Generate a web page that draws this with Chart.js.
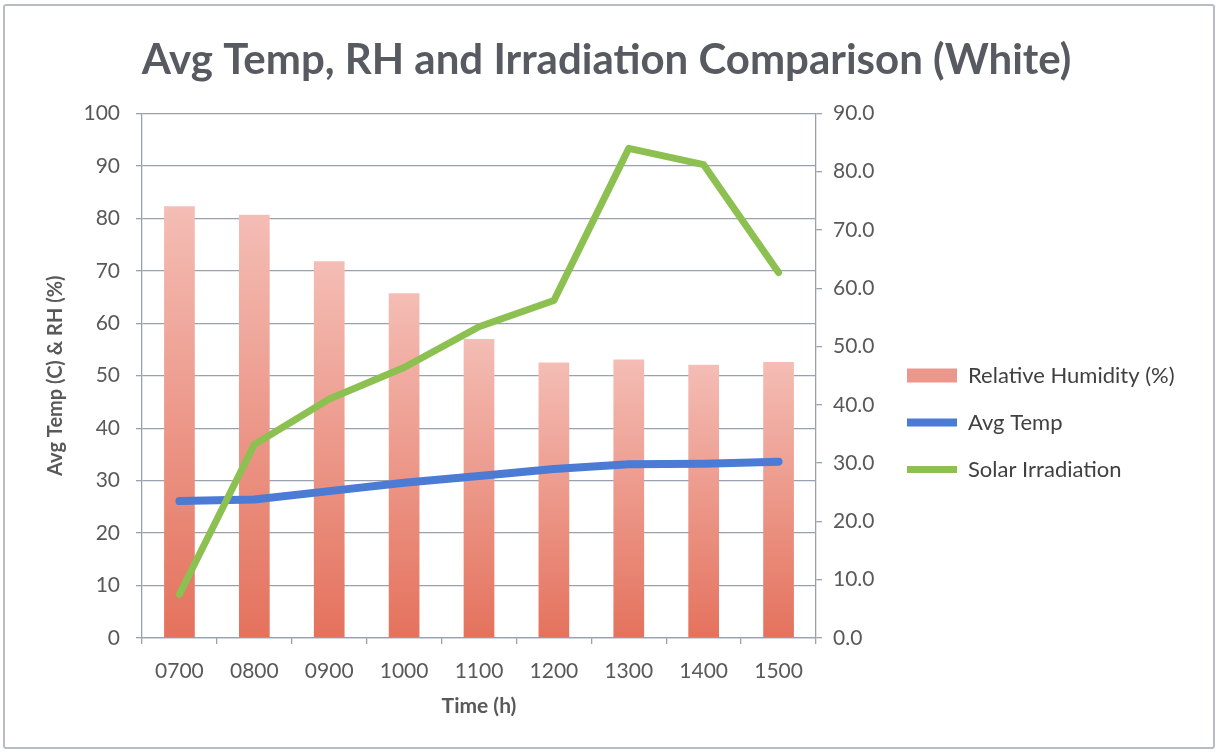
<!DOCTYPE html>
<html>
<head>
<meta charset="utf-8">
<title>Avg Temp, RH and Irradiation Comparison (White)</title>
<script src="https://cdn.jsdelivr.net/npm/chart.js@4.4.0/dist/chart.umd.min.js"></script>
<style>
    html, body { margin: 0; padding: 0; background: #ffffff; }
    #moldura {
        position: absolute; left: 3px; top: 4px;
        width: 1208px; height: 741px;
        border: 2px solid #b9bdc3; border-radius: 3px;
    }
    #grafico { position: absolute; left: 0; top: 0; }
</style>
</head>
<body>
<div id="moldura"></div>
<canvas id="grafico" width="1219" height="753"></canvas>
<script>
//===============================================================
// ========================== DADOS =============================
//===============================================================
const horarios = ["0700", "0800", "0900", "1000", "1100", "1200", "1300", "1400", "1500"];

// eixo da esquerda (0 - 100)
const umidadeRelativa = [82.3, 80.7, 71.8, 65.7, 57.0, 52.5, 53.1, 52.1, 52.6];
const tempMedia = [26.1, 26.4, 28.0, 29.6, 30.9, 32.2, 33.1, 33.2, 33.6];

// eixo da direita (0.0 - 90.0)
const irradiacaoSolar = [7.5, 33.2, 41.0, 46.4, 53.4, 57.9, 84.0, 81.2, 62.7];

const corTexto = "#595959";
const corGrade = "#99a1af";
const fonte = "Lato";

//===============================================================
// ========================= FUNÇÕES ============================
//===============================================================

// degradê por barra: rosa claro no topo, salmão na base
function gradienteBarra(context) {
    const chart = context.chart;
    if (!chart.chartArea || context.type !== "data") {
        return "#ec978b";
    }
    const escala = chart.scales.y;
    const topo = escala.getPixelForValue(context.raw);
    const base = escala.getPixelForValue(0);
    const grad = chart.ctx.createLinearGradient(0, topo, 0, base);
    grad.addColorStop(0, "#f4bdb5");
    grad.addColorStop(1, "#e4725d");
    return grad;
}

// a legenda do Chart.js fica limitada a 1/6 da largura; aqui ela ganha
// a largura do original e desce um pouco abaixo do centro
const ajusteLegenda = {
    id: "ajusteLegenda",
    beforeLayout(chart) {
        const legenda = chart.legend;
        if (legenda && !legenda.fitOriginal) {
            legenda.fitOriginal = legenda.fit;
            legenda.fit = function () {
                this.fitOriginal();
                this.width = 331;
            };
        }
    },
    afterLayout(chart) {
        chart.legend.top += 61;
        chart.legend.bottom += 61;
    }
};

//===============================================================
// ========================= GRÁFICO ============================
//===============================================================

const ctx = document.getElementById("grafico");

new Chart(ctx, {
    data: {
        labels: horarios,
        datasets: [
            {
                type: "bar",
                label: "Relative Humidity (%)",
                data: umidadeRelativa,
                yAxisID: "y",
                backgroundColor: gradienteBarra,
                borderWidth: 0,
                barPercentage: 0.41,
                categoryPercentage: 1,
                order: 3
            },
            {
                type: "line",
                label: "Avg Temp",
                data: tempMedia,
                yAxisID: "y",
                borderColor: "#4b7bd5",
                borderWidth: 8,
                pointRadius: 0,
                tension: 0,
                borderCapStyle: "round",
                borderJoinStyle: "round",
                order: 2
            },
            {
                type: "line",
                label: "Solar Irradiation",
                data: irradiacaoSolar,
                yAxisID: "y1",
                borderColor: "#8cc152",
                borderWidth: 7,
                pointRadius: 0,
                tension: 0,
                borderCapStyle: "round",
                borderJoinStyle: "round",
                order: 1
            }
        ]
    },

    options: {
        responsive: false,
        animation: false,
        layout: {
            padding: { top: 0, right: 6, bottom: 30, left: 0 }
        },

        plugins: {
            title: {
                display: true,
                text: "Avg Temp, RH and Irradiation Comparison (White)",
                color: "#575b61",
                font: { family: fonte, size: 42, weight: "bold" },
                padding: { top: 35, bottom: 28 }
            },
            legend: {
                position: "right",
                labels: {
                    usePointStyle: true,
                    pointStyleWidth: 50,
                    boxHeight: 14,
                    padding: 25,
                    color: "#404040",
                    font: { family: fonte, size: 22 },
                    sort: (a, b) => a.datasetIndex - b.datasetIndex,
                    generateLabels(chart) {
                        const itens = Chart.defaults.plugins.legend.labels.generateLabels(chart);
                        itens.forEach(item => {
                            if (item.datasetIndex === 0) {
                                item.pointStyle = "rect";
                                item.fillStyle = "#ec978b";
                                item.lineWidth = 0;
                            } else {
                                item.pointStyle = "line";
                            }
                        });
                        return itens;
                    }
                }
            },
            tooltip: { enabled: false }
        },

        scales: {
            x: {
                offset: true,
                grid: {
                    offset: true,
                    drawOnChartArea: false,
                    tickLength: 6,
                    color: corGrade,
                    lineWidth: 1.3
                },
                border: { color: corGrade, width: 1.3 },
                ticks: {
                    color: corTexto,
                    font: { family: fonte, size: 21 },
                    padding: 15
                },
                title: {
                    display: true,
                    text: "Time (h)",
                    color: corTexto,
                    font: { family: fonte, size: 21, weight: "bold" },
                    padding: { top: 0, bottom: 4 }
                },
                afterFit(escala) { escala.height = 85; }
            },
            y: {
                position: "left",
                min: 0,
                max: 100,
                ticks: {
                    stepSize: 10,
                    color: corTexto,
                    font: { family: fonte, size: 21 },
                    padding: 16
                },
                grid: { color: corGrade, lineWidth: 1.3, tickLength: 6 },
                border: { color: corGrade, width: 1.3 },
                title: {
                    display: true,
                    text: "Avg Temp (C) & RH (%)",
                    color: corTexto,
                    font: { family: fonte, size: 20, weight: "bold" },
                    padding: { top: 44, bottom: 0 }
                },
                afterFit(escala) { escala.width = 142; }
            },
            y1: {
                position: "right",
                min: 0,
                max: 90,
                ticks: {
                    stepSize: 10,
                    color: corTexto,
                    font: { family: fonte, size: 21 },
                    padding: 11,
                    callback: valor => valor.toFixed(1)
                },
                grid: { drawOnChartArea: false, color: corGrade, lineWidth: 1.3, tickLength: 6 },
                border: { color: corGrade, width: 1.3 },
                afterFit(escala) { escala.width = 66; }
            }
        }
    },

    plugins: [ajusteLegenda]
});
</script>
</body>
</html>
